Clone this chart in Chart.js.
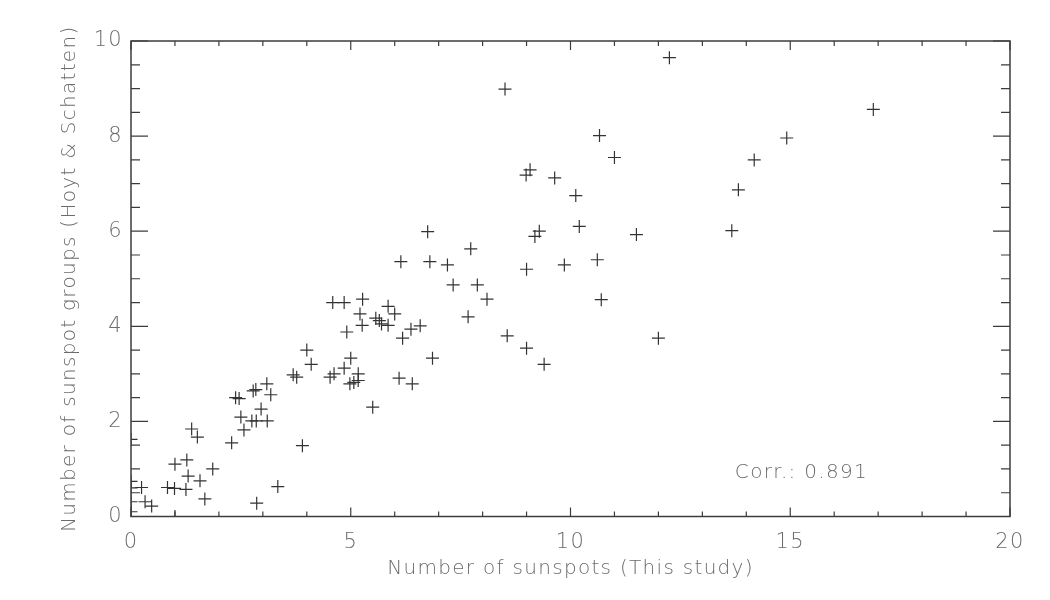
<!DOCTYPE html>
<html>
<head>
<meta charset="utf-8">
<script src="https://cdn.jsdelivr.net/npm/chart.js@4/dist/chart.umd.min.js"></script>
<style>
  html, body { margin: 0; padding: 0; background: #fff; }
  #wrap { width: 1050px; height: 600px; }
</style>
</head>
<body>
<div id="wrap"><canvas id="sun_chart" width="1050" height="600"></canvas></div>
<script>
// sunspot counts (this study) vs group numbers (Hoyt & Schatten)
var sunspots = [
  0, 0, 0, 0, 0, 0, 0.24, 0.32, 0.47, 0.83,
  0.99, 1.0, 1.0, 1.27, 1.25, 1.3, 1.57, 1.68, 1.86, 1.38,
  1.51, 2.29, 2.38, 2.46, 2.5, 2.57, 2.75, 2.85, 3.1, 2.78,
  2.84, 2.96, 3.09, 3.18, 2.86, 3.34, 3.9, 3.69, 3.77, 4.0,
  4.1, 4.53, 4.62, 4.85, 5.0, 4.98, 5.07, 5.17, 5.17, 5.5,
  6.1, 6.4, 6.86, 4.59, 4.85, 5.27, 4.91, 5.21, 5.26, 5.57,
  5.65, 5.7, 5.85, 5.85, 6.0, 6.18, 6.37, 6.58, 7.67, 8.1,
  6.14, 6.8, 6.75, 7.2, 7.33, 7.88, 7.73, 8.56, 9.0, 9.4,
  9.0, 9.86, 10.61, 10.7, 12.0, 9.19, 9.29, 10.2, 11.5, 10.12,
  9.64, 8.99, 9.08, 10.66, 11.0, 8.51, 12.25, 13.67, 13.82, 14.18,
  14.92, 16.89
];
var groups = [
  1.62, 0.74, 0.6, 0.31, 0.1, 0.0, 0.61, 0.31, 0.22, 0.61,
  0.59, 1.1, 0.0, 1.19, 0.57, 0.85, 0.75, 0.37, 1.0, 1.84,
  1.67, 1.55, 2.5, 2.48, 2.09, 1.82, 2.01, 2.01, 2.01, 2.64,
  2.67, 2.26, 2.79, 2.56, 0.28, 0.63, 1.49, 2.98, 2.93, 3.5,
  3.2, 2.93, 3.0, 3.12, 3.33, 2.79, 2.82, 2.86, 3.0, 2.3,
  2.91, 2.79, 3.33, 4.5, 4.5, 4.57, 3.88, 4.26, 4.02, 4.17,
  4.12, 4.05, 4.02, 4.42, 4.26, 3.75, 3.94, 4.01, 4.2, 4.57,
  5.36, 5.36, 5.99, 5.29, 4.87, 4.87, 5.63, 3.8, 3.54, 3.2,
  5.2, 5.29, 5.4, 4.56, 3.75, 5.89, 6.0, 6.1, 5.93, 6.75,
  7.12, 7.18, 7.29, 8.01, 7.55, 8.99, 9.65, 6.01, 6.87, 7.5,
  7.96, 8.56
];

var xTicks = [0, 5, 10, 15, 20];
var yTicks = [0, 2, 4, 6, 8, 10];
var xMinorStep = 1;
var yMinorStep = 0.5;
var corrLabel = "Corr.: 0.891";
var corrPos = [13.74, 0.91];

var points = sunspots.map(function (v, i) { return { x: v, y: groups[i] }; });

var textColor = "#6b6b6b";
var axisColor = "#3c3c3c";

// wider letter spacing, like the plotting font of the original
var spacing = {
  id: "spacing",
  beforeDraw: function (chart) { chart.ctx.letterSpacing = "1.3px"; }
};

// IDL style box: frame with inward major/minor ticks on all four sides
var frameTicks = {
  id: "frameTicks",
  afterDraw: function (chart) {
    var ctx = chart.ctx, a = chart.chartArea;
    var xs = chart.scales.x, ys = chart.scales.y;
    ctx.save();
    ctx.strokeStyle = axisColor;
    ctx.lineWidth = 1.5;
    ctx.strokeRect(a.left, a.top, a.right - a.left, a.bottom - a.top);
    ctx.lineWidth = 1.2;
    ctx.beginPath();
    for (var v = xs.min; v <= xs.max + 1e-9; v += xMinorStep) {
      var px = xs.getPixelForValue(v);
      var len = xTicks.indexOf(v) >= 0 ? 9 : 5;
      ctx.moveTo(px, a.bottom); ctx.lineTo(px, a.bottom - len);
      ctx.moveTo(px, a.top); ctx.lineTo(px, a.top + len);
    }
    for (var w = ys.min; w <= ys.max + 1e-9; w += yMinorStep) {
      var py = ys.getPixelForValue(w);
      var l2 = yTicks.indexOf(w) >= 0 ? 17 : 9;
      ctx.moveTo(a.left, py); ctx.lineTo(a.left + l2, py);
      ctx.moveTo(a.right, py); ctx.lineTo(a.right - l2, py);
    }
    ctx.stroke();
    ctx.fillStyle = textColor;
    ctx.font = "200 20px 'DejaVu Sans'";
    ctx.textAlign = "left";
    ctx.textBaseline = "middle";
    ctx.fillText(corrLabel, xs.getPixelForValue(corrPos[0]), ys.getPixelForValue(corrPos[1]));
    ctx.restore();
  }
};

Chart.defaults.font.family = "'DejaVu Sans'";
Chart.defaults.font.weight = "200";
Chart.defaults.color = textColor;

var ctx = document.getElementById("sun_chart").getContext("2d");
var sun_chart = new Chart(ctx, {
  type: "scatter",
  data: {
    datasets: [
      {
        data: points,
        pointStyle: "cross",
        pointRadius: 6.5,
        pointHoverRadius: 6.5,
        borderColor: "#333",
        backgroundColor: "#333",
        pointBorderWidth: 1.2,
      },
    ],
  },
  options: {
    responsive: false,
    animation: false,
    devicePixelRatio: 1,
    layout: { padding: { left: 0, top: 41, right: 40, bottom: 0 } },
    plugins: {
      legend: { display: false },
      tooltip: { enabled: false },
    },
    scales: {
      x: {
        type: "linear",
        min: 0,
        max: 20,
        afterFit: function (s) { s.height = 83.5; },
        grid: { display: false, drawTicks: false },
        border: { display: false },
        ticks: {
          stepSize: 5,
          padding: 13,
          font: { size: 21 },
          maxRotation: 0,
        },
        title: {
          display: true,
          text: "Number of sunspots (This study)",
          font: { size: 20 },
          padding: { top: 0, bottom: 19 },
        },
      },
      y: {
        type: "linear",
        min: 0,
        max: 10,
        afterFit: function (s) { s.width = 131; },
        grid: { display: false, drawTicks: false },
        border: { display: false },
        ticks: {
          stepSize: 2,
          padding: 8,
          font: { size: 21 },
        },
        title: {
          display: true,
          text: "Number of sunspot groups (Hoyt & Schatten)",
          font: { size: 20 },
          padding: { top: 58, bottom: 0 },
        },
      },
    },
  },
  plugins: [spacing, frameTicks],
});
</script>
</body>
</html>
